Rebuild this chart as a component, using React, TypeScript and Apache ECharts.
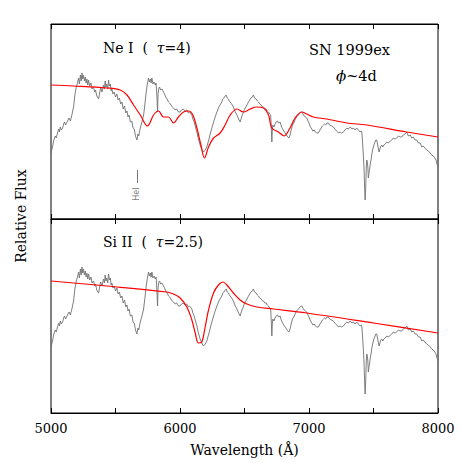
import React, { useEffect, useRef } from "react";
import * as echarts from "echarts";

// Observed spectrum of SN 1999ex (wavelength in Å, relative flux)
const specWave = [
  5000, 5008, 5015, 5022, 5033, 5041, 5050, 5060, 5066, 5072, 5080, 5090, 5098, 5105, 5113, 5124, 5132, 5140, 5150, 5162,
  5168, 5175, 5185, 5196, 5205, 5214, 5220, 5228, 5234, 5240, 5246, 5252, 5259, 5266, 5272, 5278, 5285, 5291, 5300, 5310,
  5318, 5330, 5338, 5345, 5355, 5369, 5377, 5385, 5395, 5407, 5414, 5420, 5426, 5432, 5440, 5446, 5453, 5460, 5466, 5472,
  5480, 5490, 5500, 5511, 5520, 5530, 5540, 5550, 5560, 5570, 5580, 5589, 5597, 5605, 5615, 5627, 5636, 5645, 5655, 5666,
  5674, 5680, 5692, 5705, 5718, 5728, 5738, 5747, 5756, 5763, 5770, 5776, 5782, 5790, 5800, 5808, 5815, 5822, 5826, 5830,
  5836, 5841, 5850, 5860, 5872, 5880, 5890, 5900, 5911, 5920, 5930, 5940, 5950, 5962, 5975, 5988, 6001, 6012, 6025, 6040,
  6053, 6065, 6075, 6085, 6092, 6100, 6110, 6120, 6131, 6143, 6156, 6168, 6182, 6195, 6208, 6216, 6225, 6236, 6247, 6256,
  6265, 6275, 6286, 6295, 6305, 6315, 6324, 6332, 6340, 6350, 6358, 6366, 6375, 6382, 6389, 6400, 6410, 6420, 6428, 6438,
  6448, 6458, 6466, 6473, 6480, 6490, 6497, 6506, 6515, 6523, 6531, 6540, 6550, 6560, 6569, 6578, 6590, 6600, 6608, 6618,
  6630, 6640, 6647, 6657, 6668, 6677, 6686, 6695, 6703, 6708, 6712, 6716, 6720, 6728, 6737, 6745, 6755, 6765, 6776, 6785,
  6795, 6805, 6815, 6825, 6835, 6845, 6853, 6862, 6872, 6882, 6892, 6903, 6918, 6930, 6944, 6953, 6962, 6972, 6983, 6992,
  7000, 7011, 7022, 7030, 7040, 7049, 7061, 7073, 7085, 7095, 7104, 7112, 7120, 7130, 7140, 7150, 7160, 7175, 7189, 7200,
  7215, 7228, 7241, 7252, 7267, 7278, 7293, 7305, 7320, 7332, 7344, 7357, 7370, 7383, 7396, 7405, 7410, 7414, 7422, 7427,
  7431, 7435, 7440, 7444, 7448, 7453, 7456, 7460, 7465, 7470, 7476, 7481, 7486, 7493, 7499, 7506, 7512, 7518, 7525, 7531,
  7537, 7543, 7550, 7557, 7564, 7572, 7580, 7590, 7603, 7615, 7630, 7642, 7654, 7667, 7680, 7693, 7706, 7719, 7730, 7744,
  7758, 7770, 7785, 7796, 7809, 7822, 7835, 7848, 7862, 7874, 7885, 7898, 7912, 7925, 7940, 7951, 7964, 7975, 7985, 7990,
  8000,
];
const specFlux = [
  0.66, 0.70, 0.74, 0.79, 0.83, 0.81, 0.86, 0.90, 0.87, 0.92, 0.89, 0.91, 0.95, 0.97, 0.94, 0.97, 0.99, 1.01, 0.98, 1.04,
  1.08, 1.12, 1.24, 1.32, 1.36, 1.41, 1.35, 1.44, 1.38, 1.46, 1.40, 1.44, 1.38, 1.42, 1.36, 1.40, 1.34, 1.39, 1.33, 1.36,
  1.30, 1.32, 1.27, 1.29, 1.23, 1.20, 1.26, 1.31, 1.27, 1.34, 1.30, 1.38, 1.32, 1.35, 1.30, 1.39, 1.33, 1.35, 1.28, 1.30,
  1.25, 1.27, 1.22, 1.25, 1.19, 1.21, 1.15, 1.17, 1.10, 1.13, 1.06, 1.08, 1.02, 1.04, 0.97, 0.98, 0.91, 0.90, 0.83, 0.79,
  0.85, 0.83, 0.91, 0.97, 1.04, 1.15, 1.27, 1.35, 1.41, 1.37, 1.40, 1.36, 1.41, 1.35, 1.37, 1.34, 1.36, 1.20, 1.07, 1.25,
  1.31, 1.32, 1.29, 1.30, 1.27, 1.25, 1.22, 1.20, 1.17, 1.16, 1.14, 1.12, 1.11, 1.09, 1.10, 1.07, 1.07, 1.09, 1.10, 1.08,
  1.09, 1.06, 1.07, 1.05, 1.04, 1.00, 0.97, 0.92, 0.87, 0.80, 0.74, 0.70, 0.67, 0.69, 0.72, 0.76, 0.80, 0.86, 0.91, 0.95,
  0.99, 1.03, 1.07, 1.10, 1.13, 1.15, 1.17, 1.20, 1.21, 1.23, 1.24, 1.21, 1.20, 1.18, 1.17, 1.15, 1.13, 1.10, 1.07, 1.05,
  1.02, 0.99, 0.97, 1.00, 1.03, 1.06, 1.09, 1.11, 1.13, 1.15, 1.17, 1.19, 1.21, 1.22, 1.24, 1.21, 1.20, 1.18, 1.17, 1.15,
  1.14, 1.12, 1.12, 1.10, 1.10, 1.08, 1.07, 1.05, 1.04, 0.90, 0.77, 0.90, 0.94, 0.92, 0.95, 0.97, 0.98, 0.96, 0.97, 0.93,
  0.90, 0.88, 0.86, 0.84, 0.82, 0.81, 0.84, 0.89, 0.94, 0.96, 0.99, 1.02, 1.04, 1.06, 1.07, 1.05, 1.03, 1.02, 1.01, 0.98,
  0.96, 0.92, 0.90, 0.88, 0.89, 0.87, 0.86, 0.86, 0.89, 0.91, 0.93, 0.94, 0.95, 0.94, 0.96, 0.96, 0.94, 0.93, 0.92, 0.90,
  0.88, 0.86, 0.87, 0.86, 0.87, 0.89, 0.91, 0.90, 0.92, 0.90, 0.91, 0.89, 0.91, 0.89, 0.87, 0.88, 0.86, 0.79, 0.62, 0.49,
  0.32, 0.19, 0.33, 0.52, 0.59, 0.56, 0.52, 0.41, 0.46, 0.50, 0.56, 0.59, 0.64, 0.69, 0.72, 0.75, 0.77, 0.79, 0.79, 0.75,
  0.71, 0.67, 0.70, 0.73, 0.74, 0.72, 0.74, 0.75, 0.77, 0.76, 0.78, 0.79, 0.81, 0.80, 0.81, 0.83, 0.82, 0.82, 0.84, 0.85,
  0.87, 0.83, 0.84, 0.81, 0.82, 0.79, 0.79, 0.76, 0.76, 0.72, 0.73, 0.71, 0.69, 0.68, 0.66, 0.64, 0.63, 0.61, 0.59, 0.56,
  0.52,
];

// Synthetic spectrum, Ne I (tau = 4)
const neWave = [
  5000, 5175, 5434, 5537, 5589, 5640, 5692, 5748, 5795, 5834, 5872, 5911, 5950, 5988, 6027, 6066, 6100, 6131, 6162, 6190,
  6221, 6260, 6311, 6350, 6389, 6441, 6492, 6544, 6596, 6647, 6686, 6712, 6763, 6807, 6853, 6892, 6944, 6983, 7034, 7138,
  7293, 7448, 7758, 8000,
];
const neFlux = [
  1.34, 1.33, 1.31, 1.29, 1.24, 1.14, 1.04, 0.93, 1.04, 1.08, 1.02, 1.02, 0.96, 1.02, 1.07, 1.08, 1.04, 0.91, 0.74, 0.61,
  0.72, 0.81, 0.86, 0.94, 1.04, 1.10, 1.07, 1.10, 1.12, 1.11, 1.04, 0.91, 0.87, 0.83, 0.91, 1.01, 1.07, 1.05, 1.02, 1.00,
  0.96, 0.94, 0.87, 0.82,
];

// Synthetic spectrum, Si II (tau = 2.5)
const siWave = [
  5000, 5434, 5898, 5950, 6001, 6053, 6092, 6118, 6143, 6169, 6195, 6221, 6260, 6298, 6332, 6363, 6414, 6466, 6518, 6596,
  6725, 6983, 7499, 8000,
];
const siFlux = [
  1.32, 1.27, 1.21, 1.19, 1.15, 1.06, 0.93, 0.80, 0.70, 0.71, 0.86, 1.03, 1.20, 1.28, 1.31, 1.28, 1.20, 1.13, 1.09, 1.06,
  1.04, 1.00, 0.90, 0.80,
];

const xTickLabels = ["5000", "6000", "7000", "8000"];

const FONT = "DejaVu Serif";

export default function App() {
  const ref = useRef<HTMLDivElement>(null);
  useEffect(() => {
    if (!ref.current) return;
    const chart = echarts.init(ref.current, undefined, { renderer: "svg" });
    const spec = specWave.map((w, i) => [w, specFlux[i]]);
    const ne = neWave.map((w, i) => [w, neFlux[i]]);
    const si = siWave.map((w, i) => [w, siFlux[i]]);

    const xBase = (gridIndex: number, position: "top" | "bottom", labels: boolean) => ({
      type: "value",
      gridIndex,
      position,
      min: 5000,
      max: 8000,
      interval: 500,
      axisLine: { show: true, lineStyle: { color: "#000", width: 1 } },
      axisTick: { show: true, inside: true, length: 5, lineStyle: { color: "#000", width: 1 } },
      splitLine: { show: false },
      axisLabel: {
        show: labels,
        margin: 9,
        fontFamily: FONT,
        fontSize: 13,
        color: "#000",
        formatter: (v: number) => (xTickLabels.includes(String(v)) ? String(v) : ""),
      },
      ...(labels
        ? {
            name: "Wavelength (Å)",
            nameLocation: "middle",
            nameGap: 30,
            nameTextStyle: { fontFamily: FONT, fontSize: 14, color: "#000" },
          }
        : {}),
    });
    const yBase = (gridIndex: number, max: number) => ({
      type: "value",
      gridIndex,
      min: 0,
      max,
      axisLine: { show: false },
      axisTick: { show: false },
      axisLabel: { show: false },
      splitLine: { show: false },
    });

    chart.setOption({
      animation: false,
      backgroundColor: "#fff",
      grid: [
        { left: 51, right: 25, top: 24, height: 195, show: true, borderColor: "#000", borderWidth: 1, backgroundColor: "transparent" },
        { left: 51, right: 25, top: 219, height: 194, show: true, borderColor: "#000", borderWidth: 1, backgroundColor: "transparent" },
      ],
      xAxis: [xBase(0, "bottom", false), xBase(0, "top", false), xBase(1, "bottom", true), xBase(1, "top", false)],
      yAxis: [yBase(0, 1.95), yBase(1, 1.94)],
      series: [
        {
          type: "line",
          xAxisIndex: 0,
          yAxisIndex: 0,
          data: spec,
          showSymbol: false,
          symbol: "none",
          lineStyle: { color: "#707070", width: 0.9 },
          z: 2,
          markLine: {
            silent: true,
            symbol: "none",
            label: { show: false },
            lineStyle: { color: "#777", width: 1, type: "solid" },
            data: [[{ coord: [5666, 0.49] }, { coord: [5666, 0.36] }]],
          },
        },
        {
          type: "line",
          xAxisIndex: 0,
          yAxisIndex: 0,
          data: ne,
          smooth: 0.35,
          showSymbol: false,
          symbol: "none",
          lineStyle: { color: "#ff0000", width: 1.2 },
          z: 3,
        },
        {
          type: "scatter",
          xAxisIndex: 0,
          yAxisIndex: 0,
          data: [[5664, 0.25]],
          symbolSize: 0,
          label: {
            show: true,
            position: "inside",
            formatter: "HeI",
            rotate: 90,
            fontFamily: "DejaVu Sans",
            fontSize: 8,
            color: "#555",
          },
        },
        {
          type: "line",
          xAxisIndex: 2,
          yAxisIndex: 1,
          data: spec,
          showSymbol: false,
          symbol: "none",
          lineStyle: { color: "#707070", width: 0.9 },
          z: 2,
        },
        {
          type: "line",
          xAxisIndex: 2,
          yAxisIndex: 1,
          data: si,
          smooth: 0.35,
          showSymbol: false,
          symbol: "none",
          lineStyle: { color: "#ff0000", width: 1.2 },
          z: 3,
        },
      ],
      graphic: [
        {
          type: "text",
          left: 103,
          top: 41,
          style: {
            text: "Ne I  (  {i|τ}=4)",
            fontFamily: FONT,
            fontSize: 14,
            fill: "#000",
            rich: { i: { fontFamily: FONT, fontStyle: "italic", fontSize: 14 } },
          },
        },
        {
          type: "text",
          left: 309,
          top: 42,
          style: { text: "SN 1999ex", fontFamily: FONT, fontSize: 14.5, fill: "#000" },
        },
        {
          type: "text",
          left: 336,
          top: 68,
          style: {
            text: "{i|ϕ}~4d",
            fontFamily: FONT,
            fontSize: 14.5,
            fill: "#000",
            rich: { i: { fontFamily: FONT, fontStyle: "italic", fontSize: 15 } },
          },
        },
        {
          type: "text",
          left: 103,
          top: 235,
          style: {
            text: "Si II  (  {i|τ}=2.5)",
            fontFamily: FONT,
            fontSize: 14,
            fill: "#000",
            rich: { i: { fontFamily: FONT, fontStyle: "italic", fontSize: 14 } },
          },
        },
        {
          type: "text",
          x: 21,
          y: 216,
          rotation: Math.PI / 2,
          style: {
            text: "Relative Flux",
            fontFamily: FONT,
            fontSize: 14,
            fill: "#000",
            align: "center",
            verticalAlign: "middle",
          },
        },
      ],
    });
    return () => chart.dispose();
  }, []);
  return (
    <div
      ref={ref}
      style={{ position: "fixed", left: 0, top: 0, width: 463, height: 463, background: "#fff" }}
    />
  );
}
